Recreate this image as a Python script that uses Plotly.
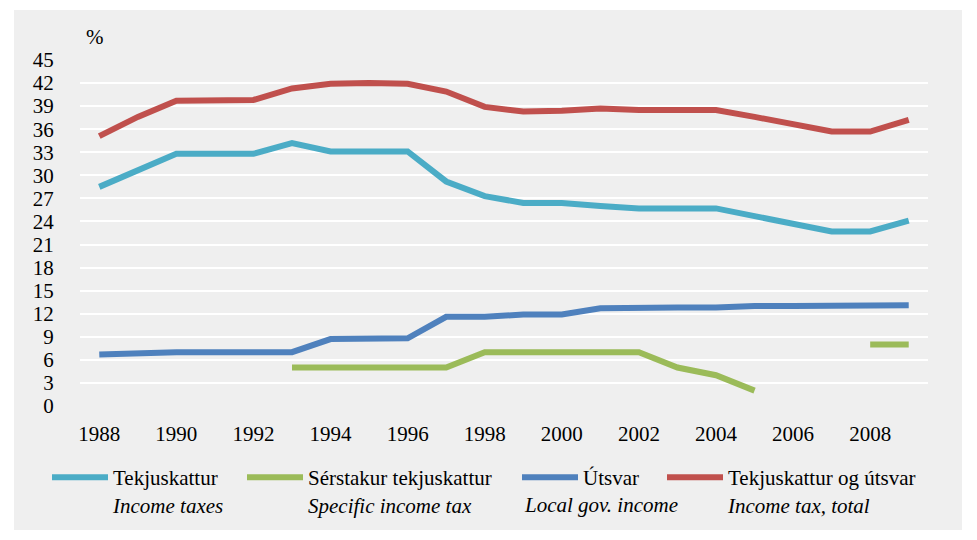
import plotly.graph_objects as go

years = list(range(1988, 2010))

tekjuskattur = [28.5, 30.7, 32.8, 32.8, 32.8, 34.2, 33.1, 33.1, 33.1, 29.2, 27.3, 26.4,
                26.4, 26.0, 25.7, 25.7, 25.7, 24.7, 23.7, 22.7, 22.7, 24.1]
serstakur = [None, None, None, None, None, 5.0, 5.0, 5.0, 5.0, 5.0, 7.0, 7.0,
             7.0, 7.0, 7.0, 5.0, 4.0, 2.0, None, None, 8.0, 8.0]
utsvar = [6.7, 6.9, 7.0, 7.0, 7.04, 7.0, 8.7, 8.75, 8.8, 11.6, 11.6, 11.9,
          11.9, 12.7, 12.8, 12.8, 12.8, 13.0, 13.0, 13.0, 13.0, 13.1]
samtals = [35.1, 37.6, 39.7, 39.7, 39.8, 41.3, 41.9, 42.0, 41.9, 40.9, 38.9, 38.3,
           38.4, 38.7, 38.5, 38.5, 38.5, 37.6, 36.6, 35.7, 35.7, 37.2]

names_is = ["Tekjuskattur", "Sérstakur tekjuskattur", "Útsvar", "Tekjuskattur og útsvar"]
names_en = ["Income taxes", "Specific income tax", "Local gov. income", "Income tax, total"]
series = [tekjuskattur, serstakur, utsvar, samtals]
colors = ["#4BACC6", "#9BBB59", "#4F81BD", "#C0504D"]

y_ticks = list(range(0, 46, 3))
x_ticks = list(range(1988, 2009, 2))

FONT = '"Liberation Serif", "Times New Roman", serif'
FS = 21

# plot area in pixels: x 80..928, y 60..406
PL, PW, PT, PH = 80, 848, 60, 346
def px_x(p):
    return (p - PL) / PW
def px_y(p):
    return (PT + PH - p) / PH

legend_left = [47, 242, 517, 662]
legend_ids = ["legend", "legend2", "legend3", "legend4"]

fig = go.Figure()
for i, (name_is, name_en, vals, col) in enumerate(zip(names_is, names_en, series, colors)):
    label = name_is if i == 2 else f"{name_is}<br><i>{name_en}</i>"
    fig.add_trace(go.Scatter(
        x=years, y=vals, mode="lines",
        name=label,
        line=dict(color=col, width=6),
        connectgaps=False,
        hoverinfo="x+y",
        legend=legend_ids[i],
    ))

legend_common = dict(
    orientation="h", xanchor="left", y=px_y(457), yanchor="top",
    valign="top", bgcolor="rgba(0,0,0,0)", font=dict(family=FONT, size=FS),
    itemwidth=56, tracegroupgap=0,
)

layout_legends = {}
for lid, lx in zip(legend_ids, legend_left):
    layout_legends[lid] = dict(legend_common, x=px_x(lx))

fig.update_layout(
    width=977, height=540,
    margin=dict(l=80, r=49, t=60, b=134),
    paper_bgcolor="white",
    plot_bgcolor="#DCDCDC",
    font=dict(family=FONT, size=FS, color="black"),
    showlegend=True,
    xaxis=dict(
        range=[1987.5, 2009.5], tickvals=x_ticks, ticktext=[str(t) for t in x_ticks],
        showgrid=False, zeroline=False, showline=False,
        ticks="outside", ticklen=9, tickcolor="rgba(0,0,0,0)",
        tickfont=dict(family=FONT, size=FS),
    ),
    yaxis=dict(
        range=[0, 45], tickvals=y_ticks, ticktext=[str(t) for t in y_ticks],
        showgrid=True, gridcolor="white", gridwidth=1.5,
        zeroline=False, showline=False,
        ticks="outside", ticklen=21, tickcolor="rgba(0,0,0,0)",
        tickfont=dict(family=FONT, size=FS),
    ),
    shapes=[dict(type="rect", xref="paper", yref="paper", layer="below",
                 x0=px_x(14), x1=px_x(962), y0=px_y(530), y1=px_y(10),
                 fillcolor="#EFEFEF", line=dict(width=0))],
    annotations=[
        dict(text="%", xref="paper", yref="paper", x=px_x(95), y=px_y(37),
             showarrow=False, xanchor="center", yanchor="middle",
             font=dict(family=FONT, size=FS)),
        dict(text=f"<i>{names_en[2]}</i>", xref="paper", yref="paper", x=px_x(522),
             y=px_y(505), showarrow=False, xanchor="left", yanchor="middle",
             font=dict(family=FONT, size=FS)),
    ],
    **layout_legends,
)

fig.write_html("out.html", config={"displayModeBar": False},
               post_script="document.body.style.margin='0';document.body.style.padding='0';")
